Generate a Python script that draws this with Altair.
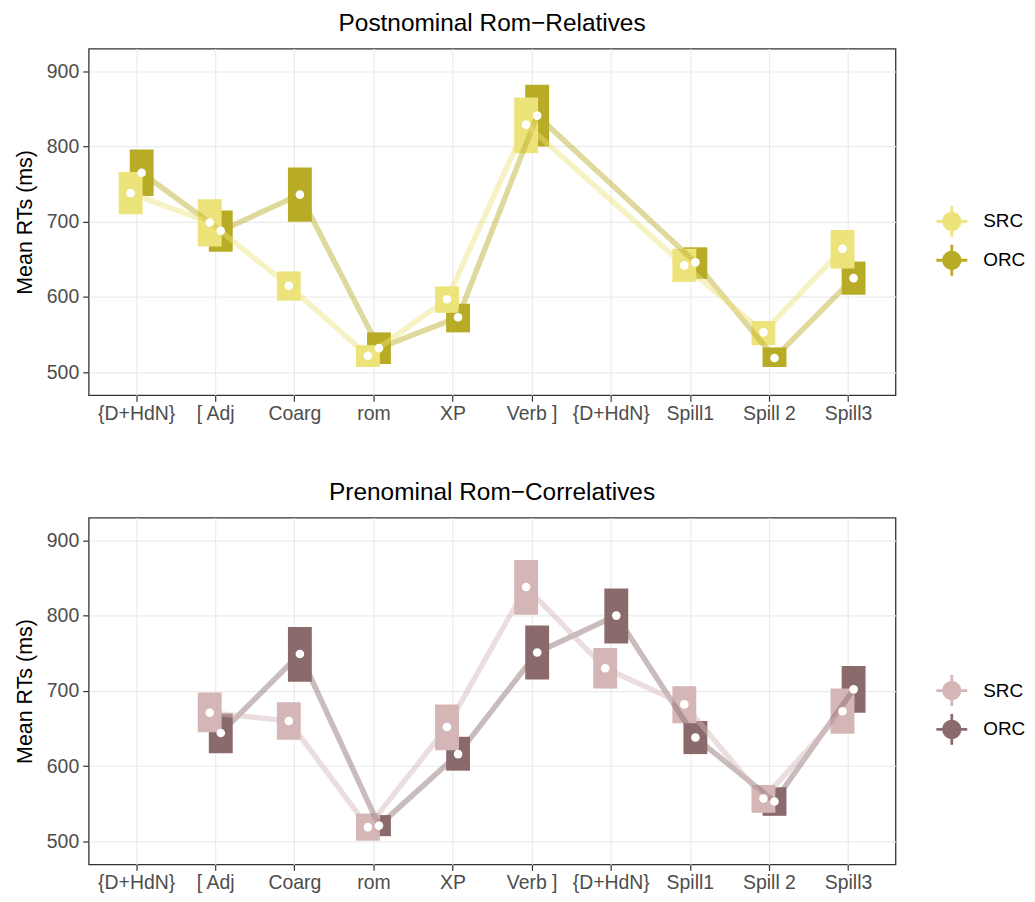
import altair as alt
import pandas as pd

labels = ["{D+HdN}", "[ Adj", "Coarg", "rom", "XP", "Verb ]", "{D+HdN}", "Spill1", "Spill 2", "Spill3"]
positions = [1, 2, 3, 4, 5, 6, 7, 8, 9, 10]

# Postnominal Rom-Relatives
post_src_mean = [738, 699, 615, 522, 597, 829, None, 642, 553, 664]
post_src_lo = [710, 667, 595, 507, 579, 791, None, 620, 536, 638]
post_src_hi = [766, 730, 634, 536, 614, 865, None, 664, 568, 689]
post_orc_mean = [765, 688, 736, 532, 573, 841, None, 646, 519, 625]
post_orc_lo = [734, 660, 700, 511, 553, 800, None, 624, 507, 603]
post_orc_hi = [796, 715, 772, 553, 591, 882, None, 666, 533, 647]

# Prenominal Rom-Correlatives
pre_src_mean = [None, 671, 660, 519, 652, 838, 730, 682, 557, 673]
pre_src_lo = [None, 645, 635, 501, 621, 801, 703, 657, 538, 643]
pre_src_hi = [None, 698, 685, 537, 682, 874, 757, 706, 575, 703]
pre_orc_mean = [None, 644, 749, 521, 616, 751, 800, 638, 553, 702]
pre_orc_lo = [None, 617, 712, 507, 594, 715, 763, 616, 534, 671]
pre_orc_hi = [None, 670, 785, 535, 639, 787, 836, 660, 572, 733]

conditions = ["SRC", "ORC"]
post_colors = ["#EDE37B", "#B8AB25"]
pre_colors = ["#D5B6B7", "#8A6A6B"]

titles = ["Postnominal Rom\u2212Relatives", "Prenominal Rom\u2212Correlatives"]


def build_df(src_m, src_lo, src_hi, orc_m, orc_lo, orc_hi):
    rows = []
    # ORC first so SRC rectangles are drawn on top
    for cond, m, lo, hi in [("ORC", orc_m, orc_lo, orc_hi), ("SRC", src_m, src_lo, src_hi)]:
        for p, a, b, c in zip(positions, m, lo, hi):
            if a is None:
                continue
            rows.append({"pos": p, "cond": cond, "mean": a, "lo": b, "hi": c})
    return pd.DataFrame(rows)


label_expr = "[" + ",".join('"' + l + '"' for l in labels) + "][datum.value - 1]"

LEG_PATH = ("M0.62,0 A0.62,0.62 0 1,1 -0.62,0 A0.62,0.62 0 1,1 0.62,0 Z "
            "M-0.09,-1 L0.09,-1 L0.09,1 L-0.09,1 Z "
            "M-1,-0.09 L1,-0.09 L1,0.09 L-1,0.09 Z")

FONT = "Liberation Sans"


def panel(df, colors, title):
    xs = alt.Scale(domain=[0.4, 10.6], nice=False, zero=False)
    ys = alt.Scale(domain=[469.5, 930], nice=False, zero=False)
    color_scale = alt.Scale(domain=conditions, range=colors)
    base = alt.Chart(df).transform_calculate(
        xc="datum.pos + (datum.cond == 'SRC' ? -0.07 : 0.07)"
    ).transform_calculate(
        x1="datum.xc - 0.151", x2="datum.xc + 0.151"
    )
    xaxis = alt.Axis(values=positions, labelExpr=label_expr, title=None,
                     grid=True, gridColor="#EBEBEB", gridWidth=1.2,
                     domain=False, tickColor="#333333", tickSize=6, tickWidth=1.2,
                     labelColor="#4D4D4D", labelFontSize=19.5, labelFont=FONT,
                     labelPadding=3)
    yaxis = alt.Axis(values=[500, 600, 700, 800, 900], title="Mean RTs (ms)",
                     grid=True, gridColor="#EBEBEB", gridWidth=1.2,
                     domain=False, tickColor="#333333", tickSize=6, tickWidth=1.2,
                     labelColor="#4D4D4D", labelFontSize=19.5, labelFont=FONT,
                     labelPadding=4, titleFontSize=21.5, titleFont=FONT,
                     titleFontWeight="normal", titleColor="black", titlePadding=10)

    rects = base.mark_rect().encode(
        x=alt.X("x1:Q", scale=xs, axis=xaxis),
        x2="x2:Q",
        y=alt.Y("lo:Q", scale=ys, axis=yaxis),
        y2="hi:Q",
        color=alt.Color("cond:N", scale=color_scale, sort=conditions,
                        legend=alt.Legend(title=None, orient="none", legendX=851, legendY=158,
                                          symbolType=LEG_PATH, symbolSize=961,
                                          symbolStrokeWidth=0, symbolOpacity=1,
                                          labelFontSize=19, labelFont=FONT, labelColor="black",
                                          labelOffset=16, rowPadding=8)),
    )
    lines = base.mark_line(strokeWidth=5.5, opacity=0.45).encode(
        x=alt.X("xc:Q", scale=xs),
        y=alt.Y("mean:Q", scale=ys),
        color=alt.Color("cond:N", scale=color_scale, sort=conditions, legend=None),
    )
    points = base.mark_circle(size=75, color="white", opacity=1).encode(
        x=alt.X("xc:Q", scale=xs),
        y=alt.Y("mean:Q", scale=ys),
    )
    return alt.layer(rects, lines, points).properties(
        width=810, height=348,
        title=alt.Title(title, fontSize=24.5, font=FONT, fontWeight="normal",
                        color="black", anchor="middle", frame="group", offset=12),
    )


top = panel(build_df(post_src_mean, post_src_lo, post_src_hi,
                     post_orc_mean, post_orc_lo, post_orc_hi), post_colors, titles[0])
bottom = panel(build_df(pre_src_mean, pre_src_lo, pre_src_hi,
                        pre_orc_mean, pre_orc_lo, pre_orc_hi), pre_colors, titles[1])

chart = alt.vconcat(top, bottom, spacing=55).resolve_scale(
    color="independent"
).resolve_legend(color="independent").properties(
    padding={"left": 5, "top": 0, "right": 0, "bottom": 0}
).configure(
    background="white"
).configure_view(
    stroke="#333333", strokeWidth=1.3
)

chart.save("out.html", embed_options={"renderer": "svg", "actions": False})
